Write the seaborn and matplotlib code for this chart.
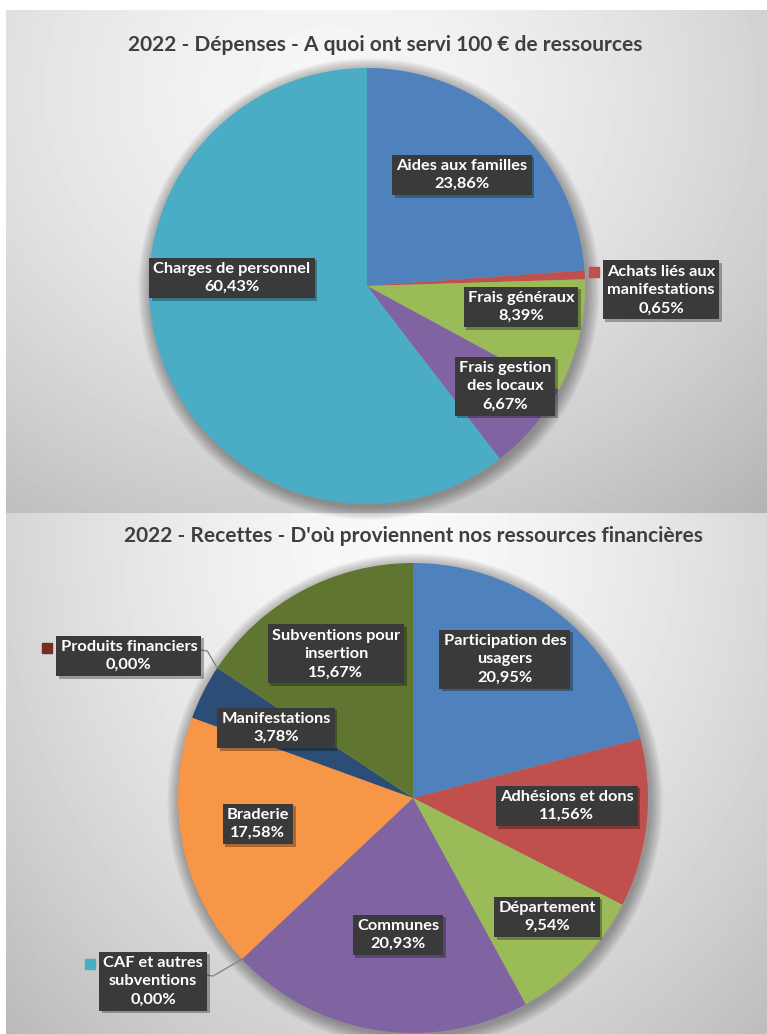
import numpy as np
import matplotlib as mpl
mpl.use('agg')
import matplotlib.pyplot as plt
import seaborn as sns

sns.set_theme(style='white')
plt.rcParams['font.family'] = ['Lato', 'DejaVu Sans']

# --- data -------------------------------------------------------------
dep_title = "2022 - Dépenses - A quoi ont servi 100 € de ressources"
dep_labels = ['Aides aux familles', 'Achats liés aux\nmanifestations', 'Frais généraux',
              'Frais gestion\ndes locaux', 'Charges de personnel']
dep_values = [23.86, 0.65, 8.39, 6.67, 60.43]
dep_colors = ['#4f81bd', '#c0504d', '#9bbb59', '#8064a2', '#4bacc6']

rec_title = "2022 - Recettes - D'où proviennent nos ressources financières"
rec_labels = ['Participation des\nusagers', 'Adhésions et dons', 'Département', 'Communes',
              'CAF et autres\nsubventions', 'Braderie', 'Manifestations', 'Produits financiers',
              'Subventions pour\ninsertion']
rec_values = [20.95, 11.56, 9.54, 20.93, 0.00, 17.58, 3.78, 0.00, 15.67]
rec_colors = ['#4f81bd', '#c0504d', '#9bbb59', '#8064a2', '#4bacc6', '#f79646',
              '#2c4d75', '#772c2a', '#5f7530']

# label placement, in pie radius units from the centre (y downwards)
dep_lpos = [(0.436, -0.509), (1.349, 0.018), (0.706, 0.096), (0.633, 0.459), (-0.619, -0.037)]
dep_outside = [False, True, False, False, False]
rec_lpos = [(0.391, -0.591), (0.655, 0.034), (0.570, 0.506), (-0.064, 0.583), (-1.106, 0.779),
            (-0.660, 0.111), (-0.583, -0.298), (-1.209, -0.604), (-0.328, -0.613)]
rec_outside = [False, False, False, False, True, False, False, True, False]
rec_leader = [False, False, False, False, True, False, False, True, False]

W, H = 767, 1034
LFS = 11.8
fig = plt.figure(figsize=(W / 100, H / 100), dpi=100)
fig.patch.set_facecolor('white')
ax = fig.add_axes([0, 0, 1, 1])


def panel_bg(x0, x1, y0, y1, cx, cy, rx, ry, hi, lo):
    yy, xx = np.mgrid[y0:y1, x0:x1] + 0.5
    d = np.hypot((xx - cx) / rx, (yy - cy) / ry)
    g = hi - (hi - lo) * np.clip(d, 0, 1.2) ** 1.6
    ax.imshow(g, cmap='gray', vmin=0, vmax=1, extent=(x0, x1, y1, y0),
              aspect='auto', zorder=0, interpolation='bilinear')


def pct(v):
    return f"{v:.2f}".replace('.', ',') + '%'


def draw_pie(values, colors, labels, center, radius, lpos):
    cx, cy = center
    # soft shadow around the pie
    for k in range(10):
        c = plt.Circle((cx + 2, cy + 3), radius + 1 + k * 1.3, color='black',
                       alpha=0.035, lw=0, zorder=1)
        ax.add_patch(c)
    wedges, _ = ax.pie(values, colors=sns.color_palette(colors), startangle=-90,
                       counterclock=True, center=center, radius=radius,
                       wedgeprops=dict(linewidth=0, zorder=2), frame=False)
    texts = []
    for i, (lab, v) in enumerate(zip(labels, values)):
        x = cx + lpos[i][0] * radius
        y = cy + lpos[i][1] * radius
        t = ax.text(x, y, lab + '\n' + pct(v), ha='center', va='center', color='white',
                    fontsize=LFS, fontweight='bold', linespacing=1.4, zorder=5,
                    bbox=dict(boxstyle='square,pad=0.25', fc='#3a3a3a', ec='none'))
        texts.append(t)
    return wedges, texts


ax.set_xlim(0, W)
ax.set_ylim(H, 0)

panel_bg(6, W, 10, 513, 330, 90, 540, 470, 0.965, 0.77)
panel_bg(6, W, 513, H, 400, 530, 500, 620, 0.975, 0.77)

ax.text(385, 45, dep_title, ha='center', va='center', fontsize=15, fontweight='bold',
        color='#3f3f3f', zorder=5)
ax.text(413, 536, rec_title, ha='center', va='center', fontsize=15, fontweight='bold',
        color='#3f3f3f', zorder=5)

top_c, top_r = (367, 286), 218
bot_c, bot_r = (413, 798), 235
w1, t1 = draw_pie(dep_values, dep_colors, dep_labels, top_c, top_r, dep_lpos)
w2, t2 = draw_pie(rec_values, rec_colors, rec_labels, bot_c, bot_r, rec_lpos)

ax.set_xlim(0, W)
ax.set_ylim(H, 0)
ax.axis('off')

# box shadows, legend keys and leader lines
fig.canvas.draw()
inv = ax.transData.inverted()


def box_of(t):
    bb = t.get_bbox_patch().get_window_extent()
    (x0, y0), (x1, y1) = inv.transform([[bb.x0, bb.y0], [bb.x1, bb.y1]])
    return min(x0, x1), max(x0, x1), min(y0, y1), max(y0, y1)


def finish_labels(wedges, texts, colors, outside, center, radius, leader):
    cx, cy = center
    for i, t in enumerate(texts):
        left, right, top, bottom = box_of(t)
        ax.add_patch(plt.Rectangle((left + 2.5, top + 2.5), right - left, bottom - top,
                                   fc='black', alpha=0.3, lw=0, zorder=4))
        if not outside[i]:
            continue
        ax.plot(left - 9, top + 12, marker='s', ms=6.5, color=colors[i], ls='none', zorder=6)
        if leader is not None and leader[i]:
            th = np.deg2rad(wedges[i].theta1)
            ex, ey = cx + radius * np.cos(th), cy + radius * np.sin(th)
            my = (top + bottom) / 2 - 6
            ax.plot([right, right + 6, ex], [my, my + 1, ey], color='#808080',
                    lw=0.9, zorder=3)


finish_labels(w1, t1, dep_colors, dep_outside, top_c, top_r, None)
finish_labels(w2, t2, rec_colors, rec_outside, bot_c, bot_r, rec_leader)

ax.set_xlim(0, W)
ax.set_ylim(H, 0)
fig.savefig('out.png', dpi=100, facecolor='white')
